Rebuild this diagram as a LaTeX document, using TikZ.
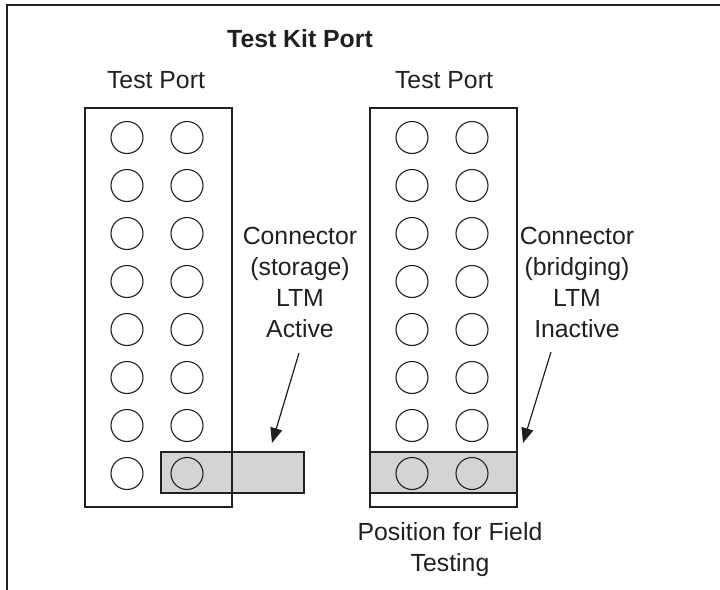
\documentclass[tikz,border=0pt]{standalone}
\usepackage{fontspec}
\setmainfont{Liberation Sans}
\usetikzlibrary{arrows.meta}
\definecolor{boxgray}{RGB}{211,212,214}
\definecolor{ink}{RGB}{35,31,32}
\begin{document}
\begin{tikzpicture}[x=0.5pt,y=-0.5pt,
  hole/.style={circle, draw=ink, line width=0.55pt, minimum size=16pt, inner sep=0pt},
  portbox/.style={draw=ink, line width=0.75pt, minimum width=73.5pt, minimum height=199.5pt, inner sep=0pt},
  grayfill/.style={fill=boxgray, minimum height=20.5pt, inner sep=0pt},
  grayedge/.style={draw=ink, line width=0.75pt, minimum height=20.5pt, inner sep=0pt},
  lbl/.style={font=\fontsize{12.4}{15.5}\selectfont, text=ink, inner sep=0pt, align=center},
  arr/.style={draw=ink, line width=0.6pt, -{Triangle[length=7.5pt,width=6pt]}}]
\useasboundingbox (0,0) rectangle (720,590);
% outer frame
\draw[ink, line width=1pt] (7,590) -- (7,5) -- (720,5);
% gray connector fills
\node[grayfill, minimum width=71.5pt] (lgrayf) at (232.5,472.5) {};
\node[grayfill, minimum width=73.5pt] (rgrayf) at (443.5,472.5) {};
% port boxes
\node[portbox] (lport) at (158.5,307.5) {};
\node[portbox] (rport) at (443.5,307.5) {};
% holes
\foreach \r in {0,...,7} {
  \pgfmathsetmacro{\yy}{137.5+48*\r}
  \node[hole] (la\r) at (127,\yy) {};
  \node[hole] (lb\r) at (187,\yy) {};
  \node[hole] (ra\r) at (412,\yy) {};
  \node[hole] (rb\r) at (472,\yy) {};
}
% gray connector outlines
\node[grayedge, minimum width=71.5pt] (lgray) at (232.5,472.5) {};
\node[grayedge, minimum width=73.5pt] (rgray) at (443.5,472.5) {};
% texts
\node[lbl, font=\fontsize{12.4}{15.5}\selectfont\bfseries, anchor=base] (title) at (300,47) {Test Kit Port};
\node[lbl, anchor=base] (ltitle) at (156,88) {Test Port};
\node[lbl, anchor=base] (rtitle) at (444,88) {Test Port};
\node[lbl, anchor=north] (ltext) at (300,227) {Connector\\(storage)\\LTM\\Active};
\node[lbl, anchor=north] (rtext) at (577,227) {Connector\\(bridging)\\LTM\\Inactive};
\node[lbl, anchor=north] (btext) at (450,522) {Position for Field\\Testing};
% arrows
\coordinate (lstart) at (299,353);
\coordinate (ltip) at (272,443);
\coordinate (rstart) at (551,352);
\coordinate (rtip) at (523,443);
\draw[arr] (lstart) -- (ltip);
\draw[arr] (rstart) -- (rtip);
\end{tikzpicture}
\end{document}
